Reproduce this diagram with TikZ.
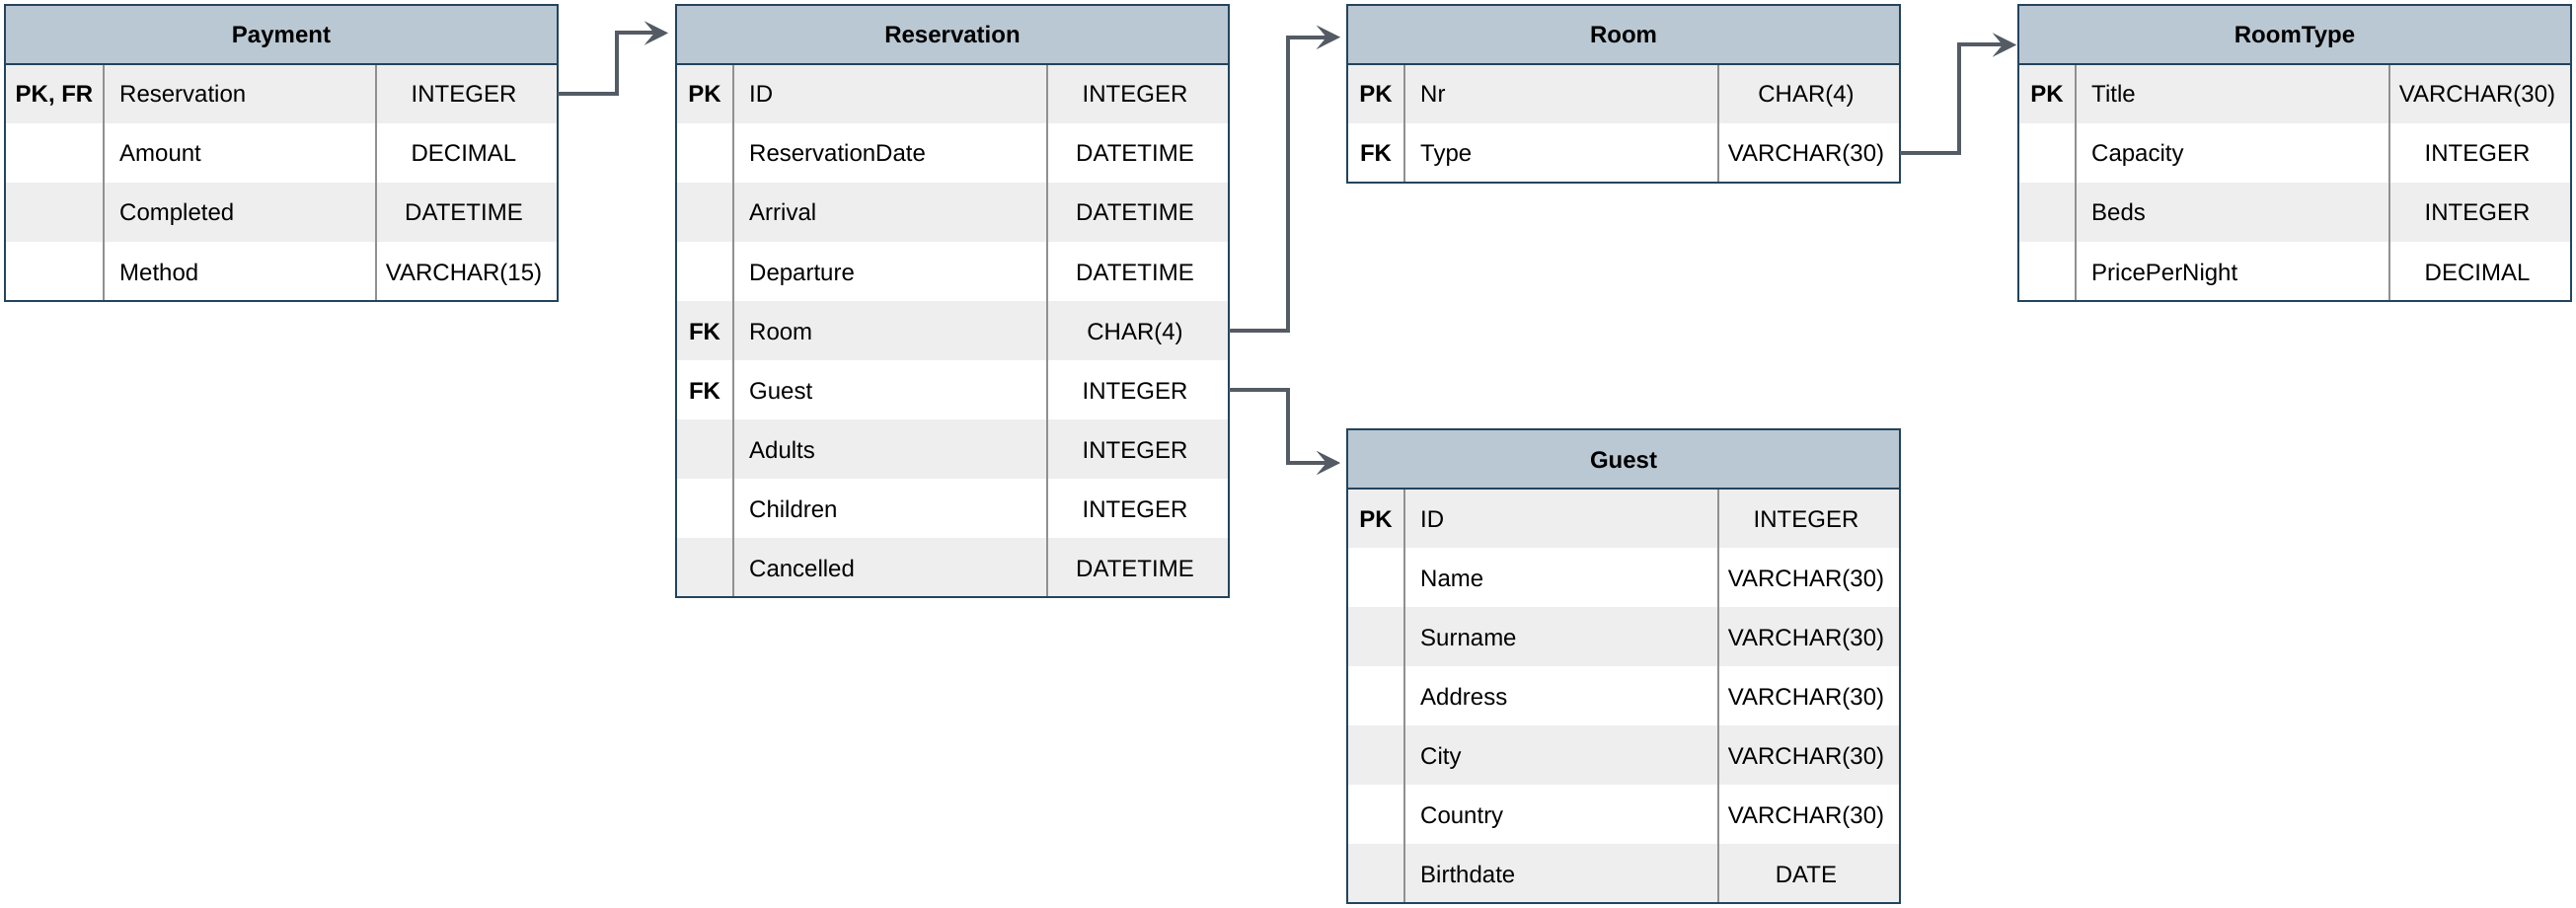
\documentclass[tikz,border=0pt]{standalone}
\usepackage{fontspec}
\setmainfont{Liberation Sans}
\usetikzlibrary{calc,arrows.meta}
\definecolor{hdrfill}{HTML}{BAC8D3}
\definecolor{bordc}{HTML}{23445D}
\definecolor{shade}{HTML}{EEEEEE}
\definecolor{divc}{HTML}{909090}
\definecolor{connc}{HTML}{545B64}
\newcommand\basefont{\fontsize{24}{28}\selectfont}
\tikzset{
  hdr/.style={draw=none, fill=hdrfill, minimum width=560pt, minimum height=60pt, inner sep=0pt, outer sep=0pt},
  rowbox/.style={draw=none, minimum width=560pt, minimum height=60pt, inner sep=0pt, outer sep=0pt},
  row1/.style={rowbox, fill=shade},
  row0/.style={rowbox, fill=white},
  titletxt/.style={inner sep=0pt, anchor=base, font=\basefont\bfseries},
  keytxt/.style={inner sep=0pt, anchor=base, font=\basefont\bfseries},
  nametxt/.style={inner sep=0pt, anchor=base west, font=\basefont},
  typetxt/.style={inner sep=0pt, anchor=base, font=\basefont},
  border/.style={draw=bordc, line width=2pt},
  divider/.style={draw=divc, line width=1.3pt},
  conn/.style={draw=connc, line width=4pt, -{Stealth[length=24pt,width=24pt,inset=10pt]}},
}
\newcommand\ertable[7]{%
  \node[hdr, anchor=north west] (#1-h) at (#2,#3) {};
  \node[titletxt] (#1-title) at ($(#1-h.center)+(0,9)$) {#4};
  \foreach [count=\i] \k/\n/\t in {#7} {%
    \pgfmathtruncatemacro\rp{mod(\i,2)}%
    \node[row\rp, anchor=north west] (#1-r\i) at (#2,{#3+60*\i}) {};
    \node[keytxt] (#1-k\i) at ($(#1-r\i.west)+(#5/2,9)$) {\k};
    \node[nametxt] (#1-n\i) at ($(#1-r\i.west)+(#5+16,9)$) {\n};
    \node[typetxt] (#1-t\i) at ($(#1-r\i.east)+(-95,9)$) {\t};
  }
  \draw[divider] ($(#1-h.south west)+(#5,0)$) -- ($(#1-r#6.south west)+(#5,0)$);
  \draw[divider] ($(#1-h.south east)+(-184,0)$) -- ($(#1-r#6.south east)+(-184,0)$);
  \draw[border] (#1-h.north west) rectangle (#1-r#6.south east);
  \draw[border] (#1-h.south west) -- (#1-h.south east);
}
\begin{document}
\begin{tikzpicture}[x=1pt, y=-1pt]
  \fill[white] (0,0) rectangle (2610,920);
  \useasboundingbox (0,0) rectangle (2610,920);
  \ertable{pay}{5}{5}{Payment}{100}{4}{{PK, FR}/Reservation/INTEGER, /Amount/DECIMAL, /Completed/DATETIME, /Method/VARCHAR(15)}
  \ertable{res}{685}{5}{Reservation}{58}{9}{PK/ID/INTEGER, /ReservationDate/DATETIME, /Arrival/DATETIME, /Departure/DATETIME, FK/Room/CHAR(4), FK/Guest/INTEGER, /Adults/INTEGER, /Children/INTEGER, /Cancelled/DATETIME}
  \ertable{room}{1365}{5}{Room}{58}{2}{PK/Nr/CHAR(4), FK/Type/VARCHAR(30)}
  \ertable{rt}{2045}{5}{RoomType}{58}{4}{PK/Title/VARCHAR(30), /Capacity/INTEGER, /Beds/INTEGER, /PricePerNight/DECIMAL}
  \ertable{guest}{1365}{435}{Guest}{58}{7}{PK/ID/INTEGER, /Name/VARCHAR(30), /Surname/VARCHAR(30), /Address/VARCHAR(30), /City/VARCHAR(30), /Country/VARCHAR(30), /Birthdate/DATE}
  \draw[conn] (pay-r1.east) -- ++(60,0) |- ($(res-h.west)+(-8,-1.5)$);
  \draw[conn] (res-r5.east) -- ++(60,0) |- ($(room-h.west)+(-7,2.7)$);
  \draw[conn] (res-r6.east) -- ++(60,0) |- ($(guest-h.west)+(-7,4)$);
  \draw[conn] (room-r2.east) -- ++(60,0) |- ($(rt-h.west)+(-2,10.5)$);
\end{tikzpicture}
\end{document}
